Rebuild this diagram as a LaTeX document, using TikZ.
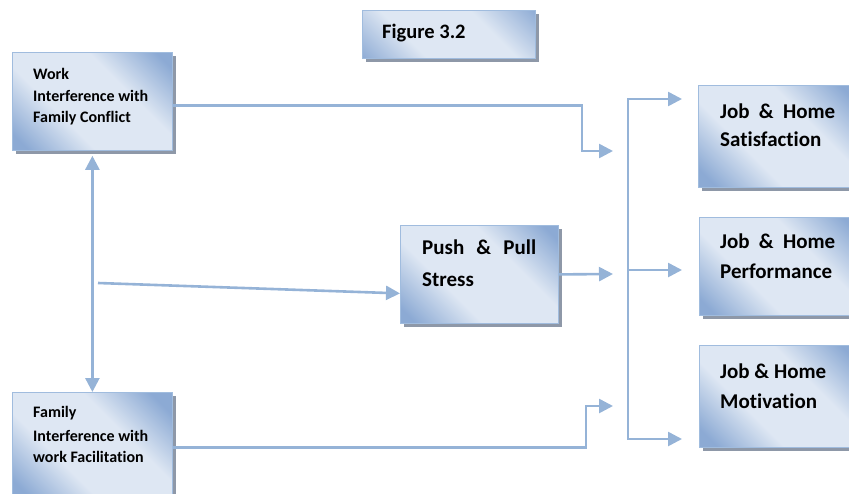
\documentclass[tikz,border=0pt]{standalone}
\usepackage{fontspec}
\setmainfont{Carlito}[Ligatures=NoCommon]
\usetikzlibrary{arrows.meta,shadows,calc}

\definecolor{linkblue}{RGB}{149,179,215}
\definecolor{boxdark}{RGB}{140,170,212}
\definecolor{boxlight}{RGB}{222,231,243}
\definecolor{boxedge}{RGB}{160,188,222}
\definecolor{shadowgray}{RGB}{142,152,168}

% dark at both ends, light across a broad middle band
\pgfdeclareverticalshading{boxshade}{100bp}{%
  color(0bp)=(boxdark); color(30bp)=(boxdark); color(42bp)=(boxlight);
  color(58bp)=(boxlight); color(70bp)=(boxdark); color(100bp)=(boxdark)}

\tikzset{
  box/.style={draw=boxedge, line width=0.8pt, fill=boxlight,
    inner sep=0pt, anchor=north west,
    path picture={
      \shade[shading=boxshade, shading angle=-45]
        ($(path picture bounding box.center)+(-100,-100)$) rectangle
        ($(path picture bounding box.center)+(100,100)$);},
    drop shadow={shadow xshift=4pt, shadow yshift=-4pt,
      fill=shadowgray, opacity=1, draw=none}},
  smalltxt/.style={font=\bfseries\fontsize{16}{19}\selectfont,
    anchor=base west, inner sep=0pt},
  bigtxt/.style={font=\bfseries\fontsize{21}{25}\selectfont,
    anchor=base west, inner sep=0pt},
  conn/.style={draw=linkblue, line width=2.6pt, -{Triangle[length=14pt,width=14pt]}},
  conn2/.style={draw=linkblue, line width=2.6pt,
    {Triangle[length=14pt,width=14pt]}-{Triangle[length=14pt,width=14pt]}},
}

\begin{document}
\begin{tikzpicture}[x=1pt,y=1pt]
  \clip (0,0) rectangle (849,-493);

  % boxes
  \node[box, minimum width=173pt, minimum height=48pt]  (fig)  at (362,-10)  {};
  \node[box, minimum width=160pt, minimum height=98pt]  (work) at (12,-52)   {};
  \node[box, minimum width=160pt, minimum height=110pt] (fam)  at (12,-392)  {};
  \node[box, minimum width=158pt, minimum height=98pt]  (push) at (400,-225) {};
  \node[box, minimum width=160pt, minimum height=102pt] (sat)  at (698,-85)  {};
  \node[box, minimum width=160pt, minimum height=98pt]  (perf) at (699,-217) {};
  \node[box, minimum width=160pt, minimum height=102pt] (mot)  at (699,-345) {};

  % texts
  \node[bigtxt, font=\bfseries\fontsize{20.5}{24}\selectfont] (figl) at (382,-38.3) {Figure 3.2};

  \node[smalltxt] (work1) at (33,-79)  {Work};
  \node[smalltxt] (work2) at (33,-101) {Interference with};
  \node[smalltxt] (work3) at (33,-122) {Family Conflict};

  \node[smalltxt] (fam1) at (33,-417.5) {Family};
  \node[smalltxt] (fam2) at (33,-441)   {Interference with};
  \node[smalltxt] (fam3) at (33,-462)   {work Facilitation};

  \node[bigtxt] (push1) at (422,-254.3) {\makebox[114pt][l]{Push\hfill\&\hfill Pull}};
  \node[bigtxt] (push2) at (422,-286.7) {Stress};

  \node[bigtxt] (sat1) at (720,-118.3) {\makebox[115pt][l]{Job\hfill\&\hfill Home}};
  \node[bigtxt] (sat2) at (720,-146)   {Satisfaction};

  \node[bigtxt] (perf1) at (720,-248.3) {\makebox[115pt][l]{Job\hfill\&\hfill Home}};
  \node[bigtxt] (perf2) at (720,-278.3) {Performance};

  \node[bigtxt] (mot1) at (720,-378.3) {Job \& Home};
  \node[bigtxt] (mot2) at (720,-408.3) {Motivation};

  % connector end points
  \coordinate (t1) at (613,-151);
  \coordinate (t2) at (613,-274);
  \coordinate (t3) at (613,-406);
  \coordinate (bustop) at (628,-99);
  \coordinate (busmid) at (628,-270);
  \coordinate (busbot) at (628,-439);
  \coordinate (o1) at (682,-99);
  \coordinate (o2) at (682,-270);
  \coordinate (o3) at (682,-439);
  \coordinate (src) at (98,-283);

  % connectors
  \draw[conn] ($(work.east)+(0,-4)$) -| ($(t1)+(-31,0)$) -- (t1);
  \draw[conn] (push.east) -- (t2);
  \draw[conn] (fam.east) -| ($(t3)+(-27,0)$) -- (t3);
  \draw[conn2] (o1) -- (bustop) -- (busbot) -- (o3);
  \draw[conn] (busmid) -- (o2);
  \draw[conn2] ($(work.south)+(0,-5)$) -- (fam.north);
  \draw[conn] (src) -- ($(push.west)+(0,-19)$);
\end{tikzpicture}
\end{document}
